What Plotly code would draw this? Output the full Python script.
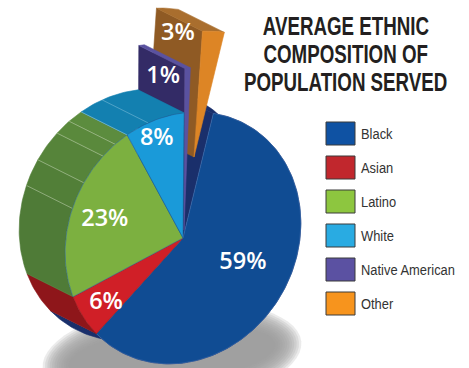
import math
import plotly.graph_objects as go

# Chart data
categories = ["Black", "Asian", "Latino", "White", "Native American", "Other"]
shares = [59, 6, 23, 8, 1, 3]

# Colours
legend_colors = ["#0F52A3", "#C1272D", "#8DC63F", "#29ABE2", "#5B51A2", "#F7941D"]
top_colors = ["#104C93", "#D01F27", "#7CB040", "#1A9AD9", "#5A52A0", "#DD8525"]
wall_colors = ["#1A2F6B", "#8E161A", "#4F7B37", "#1380B0", "#5A52A0", "#A96E2E"]
radial_colors = {0: "#1A2F6B", 4: "#332B66", 5: "#8F5A24"}

# Projection of the unit disc onto the page
CENTER = (183.0, 238.0)
AXIS_U = (97.9, 57.3)
AXIS_V = (-65.6, 112.1)
DEPTH = (-46.0, -23.0)
START_DEG = -108.9

# Slices lifted out of the pie: page offset of the apex and stretch along x, y
LIFT = {4: ((1.0, -8.0), (0.75, 1.29)), 5: ((11.0, -81.0), (1.0, 1.0))}
NO_LIFT = ((0.0, 0.0), (1.0, 1.0))

# Where each percentage sits: fraction across the slice, radius, depth
LABEL_SPOTS = [(0.48, 0.57, 0.0), (0.39, 0.79, 0.0), (0.48, 0.70, 0.0),
               (0.455, 0.85, 0.0), (0.5, 0.87, 0.52), (0.5, 0.85, 0.71)]

# Panel seams on the outer walls, as fractions of the slice arc
GREEN_SEAMS = [0.0, 0.5, 0.65, 0.826, 0.917, 1.0]
GREEN_SHADES = ["#4F7B37", "#527F38", "#56843A", "#5A893C", "#5C8C3E"]
WHITE_SEAMS = [0.385]

TITLE_LINES = ["AVERAGE ETHNIC", "COMPOSITION OF", "POPULATION SERVED"]

# Slice boundaries in degrees on the disc
total = sum(shares)
bounds = [START_DEG]
for s in shares:
    bounds.append(bounds[-1] + s / total * 360.0)


def project(deg, stretch=(1.0, 1.0), offset=(0.0, 0.0)):
    c, s = math.cos(math.radians(deg)), math.sin(math.radians(deg))
    return (CENTER[0] + offset[0] + stretch[0] * (c * AXIS_U[0] + s * AXIS_V[0]),
            CENTER[1] + offset[1] + stretch[1] * (c * AXIS_U[1] + s * AXIS_V[1]))


def arc(a0, a1, stretch=(1.0, 1.0), offset=(0.0, 0.0)):
    steps = max(2, int(abs(a1 - a0) / 1.5))
    return [project(a0 + (a1 - a0) * k / steps, stretch, offset) for k in range(steps + 1)]


def shifted(points):
    return [(x + DEPTH[0], y + DEPTH[1]) for x, y in points]


fig = go.Figure()


def polygon(points, color, edge=None, edge_width=0.6):
    fig.add_trace(go.Scatter(
        x=[p[0] for p in points] + [points[0][0]],
        y=[p[1] for p in points] + [points[0][1]],
        mode="lines", fill="toself", fillcolor=color,
        line=dict(color=edge or color, width=edge_width),
        hoverinfo="skip", showlegend=False))


def seam(point, color="rgba(225,235,215,0.55)"):
    end = shifted([point])[0]
    fig.add_trace(go.Scatter(x=[point[0], end[0]], y=[point[1], end[1]], mode="lines",
                             line=dict(color=color, width=0.7),
                             hoverinfo="skip", showlegend=False))


def wall(i, a0=None, a1=None, color=None):
    a0 = bounds[i] if a0 is None else a0
    a1 = bounds[i + 1] if a1 is None else a1
    offset, stretch = LIFT.get(i, NO_LIFT)
    rim = arc(a0, a1, stretch, offset)
    polygon(rim + shifted(rim)[::-1], color or wall_colors[i])


def radial_wall(i):
    offset, stretch = LIFT.get(i, NO_LIFT)
    apex = (CENTER[0] + offset[0], CENTER[1] + offset[1])
    corner = project(bounds[i], stretch, offset)
    polygon([apex, corner] + shifted([corner, apex]), radial_colors[i])


def top(i, edge=None):
    offset, stretch = LIFT.get(i, NO_LIFT)
    apex = (CENTER[0] + offset[0], CENTER[1] + offset[1])
    polygon([apex] + arc(bounds[i], bounds[i + 1], stretch, offset), top_colors[i], edge=edge)


# Black slice sits at the back, with its cut face behind the lifted slices
wall(0)
radial_wall(0)
top(0, edge="#3F6FB0")

# Lifted slices
radial_wall(5)
wall(5)
top(5)
radial_wall(4)
wall(4)
top(4)

# Remaining walls, front faces last
wall(1)
for k, shade in enumerate(GREEN_SHADES):
    span = bounds[3] - bounds[2]
    wall(2, bounds[2] + GREEN_SEAMS[k] * span, bounds[2] + GREEN_SEAMS[k + 1] * span, shade)
for frac in GREEN_SEAMS[1:-1]:
    seam(project(bounds[2] + frac * (bounds[3] - bounds[2])))
wall(3)
for frac in WHITE_SEAMS:
    seam(project(bounds[3] + frac * (bounds[4] - bounds[3])), "rgba(190,225,240,0.5)")
seam(project(bounds[3]), "rgba(190,225,240,0.6)")

top(1, edge="#8E161A")
top(2, edge="#2E6A8E")
top(3, edge="#1F5F95")

# Percentages
label_x, label_y = [], []
for i, (frac, radius, depth) in enumerate(LABEL_SPOTS):
    offset, stretch = LIFT.get(i, NO_LIFT)
    deg = bounds[i] + frac * (bounds[i + 1] - bounds[i])
    x, y = project(deg, (radius * stretch[0], radius * stretch[1]), offset)
    label_x.append(x + depth * DEPTH[0])
    label_y.append(y + depth * DEPTH[1])
fig.add_trace(go.Scatter(
    x=label_x, y=label_y, mode="text", text=[f"{v}%" for v in shares],
    textposition="middle center",
    textfont=dict(family="Open Sans", size=23.5, color="white", weight=600),
    hoverinfo="skip", showlegend=False))


def shadow_path(rx, ry, cx=172.0, cy=355.0, tilt_deg=-6.0):
    cos_t, sin_t = math.cos(math.radians(tilt_deg)), math.sin(math.radians(tilt_deg))
    points = []
    for d in range(0, 360, 6):
        ex, ey = rx * math.cos(math.radians(d)), ry * math.sin(math.radians(d))
        points.append((cx + ex * cos_t - ey * sin_t, cy + ex * sin_t + ey * cos_t))
    return "M" + " L".join(f"{x:.1f},{y:.1f}" for x, y in points) + " Z"


# Soft ground shadow under the pie: nested translucent layers build to a grey plateau
shapes = []
LAYERS = 12
for k in range(LAYERS):
    t = k / (LAYERS - 1)
    shapes.append(dict(type="path", xref="x", yref="y", layer="below",
                       path=shadow_path(130 - 26 * t, 52 - 24 * t),
                       fillcolor="#9a9a9a", opacity=0.2, line=dict(width=0)))

# Legend swatches and names
annotations = []
for i, name in enumerate(categories):
    y0 = 122 + 34 * i
    shapes.append(dict(type="rect", xref="x", yref="y", x0=326, x1=355, y0=y0, y1=y0 + 23,
                       fillcolor=legend_colors[i], line=dict(color="#3a3a3a", width=1)))
    annotations.append(dict(x=358.5, y=y0 + 12, xref="x", yref="y", text=name, showarrow=False,
                            xanchor="left", yanchor="middle",
                            font=dict(family="Liberation Sans", size=14.5, color="#333333")))

# Title block
for i, line in enumerate(TITLE_LINES):
    annotations.append(dict(x=345.5, y=26 + 28 * i, xref="x", yref="y", text=line, showarrow=False,
                            xanchor="center", yanchor="middle",
                            font=dict(family="Liberation Sans", size=25, color="#231F20",
                                      weight=700)))

fig.update_layout(
    width=469, height=368, autosize=False,
    margin=dict(l=0, r=0, t=0, b=0),
    paper_bgcolor="white", plot_bgcolor="white",
    xaxis=dict(range=[0, 469], visible=False, fixedrange=True),
    yaxis=dict(range=[368, 0], visible=False, fixedrange=True),
    shapes=shapes, annotations=annotations, showlegend=False,
)

# No condensed face is available, so narrow the text horizontally around its anchor
NARROW_TEXT = """
document.querySelectorAll('.annotation-text').forEach(function (t) {
  var box = t.getBBox();
  var isTitle = t.textContent === t.textContent.toUpperCase();
  var scale = isTitle ? 0.75 : 0.89;
  var cx = isTitle ? box.x + box.width / 2 : box.x;
  var base = t.getAttribute('transform') || '';
  t.setAttribute('transform', base + ' translate(' + cx + ',0) scale(' + scale + ',1) translate(' + (-cx) + ',0)');
});
"""

fig.write_html("out.html", config={"displayModeBar": False}, post_script=NARROW_TEXT)
